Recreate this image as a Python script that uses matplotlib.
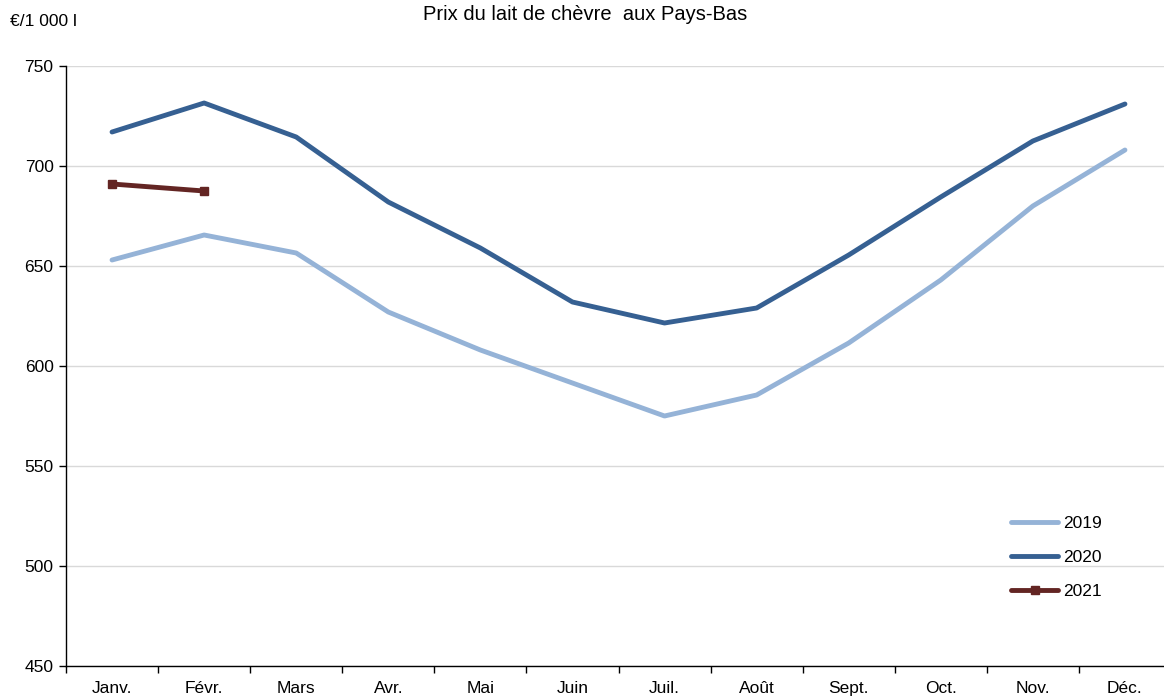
import matplotlib
matplotlib.use("Agg")
import matplotlib.pyplot as plt
from matplotlib.ticker import FixedLocator, NullFormatter

plt.rcParams['font.family'] = ['Liberation Sans', 'DejaVu Sans']

months = ["Janv.", "Févr.", "Mars", "Avr.", "Mai", "Juin", "Juil.", "Août",
          "Sept.", "Oct.", "Nov.", "Déc."]
prix_2019 = [653, 665.5, 656.5, 627, 608, 591.5, 575, 585.5, 611.5, 643, 680, 708]
prix_2020 = [717, 731.5, 714.5, 682, 659, 632, 621.5, 629, 655.5, 684.5, 712.5, 731]
prix_2021 = [691, 687.5]
yticks = [450, 500, 550, 600, 650, 700, 750]

FS = 12.5

fig = plt.figure(figsize=(11.64, 7.0), dpi=100)
ax = fig.add_axes([66/1164, 1-666/700, 1105/1164, 600/700])

x = list(range(len(months)))
ax.plot(x, prix_2019, color="#95B3D7", lw=3.5, label="2019", solid_capstyle="round", zorder=3)
ax.plot(x, prix_2020, color="#366092", lw=3.5, label="2020", solid_capstyle="round", zorder=3)
ax.plot(x[:len(prix_2021)], prix_2021, color="#632523", lw=3.5, marker="s", ms=6,
        label="2021", solid_capstyle="round", zorder=4)

ax.set_xlim(-0.5, len(months) - 0.5)
ax.set_ylim(450, 750)
ax.set_yticks(yticks)
ax.yaxis.grid(True, color="#D9D9D9", lw=1)
ax.set_axisbelow(True)

ax.set_xticks(x)
ax.set_xticklabels(months, fontsize=FS)
ax.tick_params(axis="x", which="major", length=0, pad=11)
ax.xaxis.set_minor_locator(FixedLocator([i - 0.5 for i in range(len(months) + 1)]))
ax.xaxis.set_minor_formatter(NullFormatter())
ax.tick_params(axis="x", which="minor", length=5, width=1, direction="out")
ax.tick_params(axis="y", length=5, width=1, direction="out", labelsize=FS, pad=4)

for s in ["top", "right"]:
    ax.spines[s].set_visible(False)
for s in ["left", "bottom"]:
    ax.spines[s].set_color("black")
    ax.spines[s].set_linewidth(1)

fig.text(585/1164, 1-15/700, "Prix du lait de chèvre  aux Pays-Bas", ha="center", va="center", fontsize=14.5)
fig.text(10/1164, 1-22/700, "€/1 000 l", ha="left", va="center", fontsize=FS)

leg = ax.legend(loc="lower left", bbox_to_anchor=(1002/1164, 1-608/700), bbox_transform=fig.transFigure,
                frameon=False, fontsize=FS, handlelength=2.75, handletextpad=0.25,
                labelspacing=1.1, borderpad=0)

fig.savefig("out.png", dpi=100)
